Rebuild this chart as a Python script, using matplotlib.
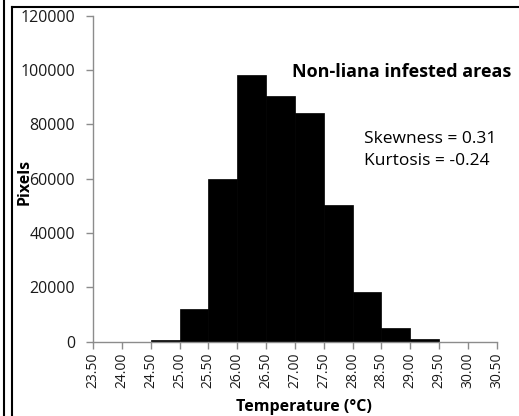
import matplotlib
matplotlib.use("Agg")
import matplotlib.pyplot as plt
from matplotlib.lines import Line2D

plt.rcParams['font.family'] = ['Open Sans', 'DejaVu Sans']

bin_left = [24.5, 25.0, 25.5, 26.0, 26.5, 27.0, 27.5, 28.0, 28.5, 29.0]
pixels = [800, 12000, 59800, 98000, 90300, 84100, 50300, 18200, 4900, 900]
tick_values = [23.5, 24.0, 24.5, 25.0, 25.5, 26.0, 26.5, 27.0, 27.5, 28.0,
               28.5, 29.0, 29.5, 30.0, 30.5]
tick_labels = ["%.2f" % t for t in tick_values]
y_ticks = [0, 20000, 40000, 60000, 80000, 100000, 120000]

fig = plt.figure(figsize=(5.19, 4.16), dpi=100)
ax = fig.add_axes([0.1792, 0.1786, 0.957 - 0.1792, 0.9623 - 0.1786])

ax.bar(bin_left, pixels, width=0.5, align='edge', color='black',
       edgecolor='black', linewidth=0.5)
ax.set_xlim(23.5, 30.5)
ax.set_ylim(0, 120000)
ax.set_xticks(tick_values)
ax.set_xticklabels(tick_labels, rotation=90, fontsize=10, color='#1a1a1a')
ax.set_yticks(y_ticks)
ax.set_yticklabels([str(v) for v in y_ticks], fontsize=11.5, color='#1a1a1a')

for s in ['top', 'right']:
    ax.spines[s].set_visible(False)
for s in ['left', 'bottom']:
    ax.spines[s].set_color('#8c8c8c')
    ax.spines[s].set_linewidth(1.0)
ax.tick_params(axis='both', direction='out', length=5, width=1.0,
               color='#8c8c8c', pad=3)
ax.tick_params(axis='y', pad=8)

ax.set_xlabel('Temperature (°C)', fontsize=11.5, fontweight='bold')
ax.xaxis.set_label_coords(0.523, -0.175)
ax.set_ylabel('Pixels', fontsize=11.5, fontweight='bold')
ax.yaxis.set_label_coords(-0.149, 0.49)

fig.text(0.562, 0.827, 'Non-liana infested areas', fontsize=13,
         fontweight='bold', ha='left', va='center')
fig.text(0.702, 0.667, 'Skewness = 0.31', fontsize=12.5, ha='left', va='center')
fig.text(0.702, 0.612, 'Kurtosis = -0.24', fontsize=12.5, ha='left', va='center')

# decorative frame
fig.add_artist(Line2D([4.5 / 519, 4.5 / 519], [0, 1], color='black', lw=1.5,
                      transform=fig.transFigure))
fig.add_artist(Line2D([11.5 / 519, 11.5 / 519], [0, 1 - 6.5 / 416], color='black',
                      lw=1.5, transform=fig.transFigure))
fig.add_artist(Line2D([11.5 / 519, 1], [1 - 6.5 / 416, 1 - 6.5 / 416], color='black',
                      lw=1.5, transform=fig.transFigure))

fig.savefig('out.png', dpi=100)
